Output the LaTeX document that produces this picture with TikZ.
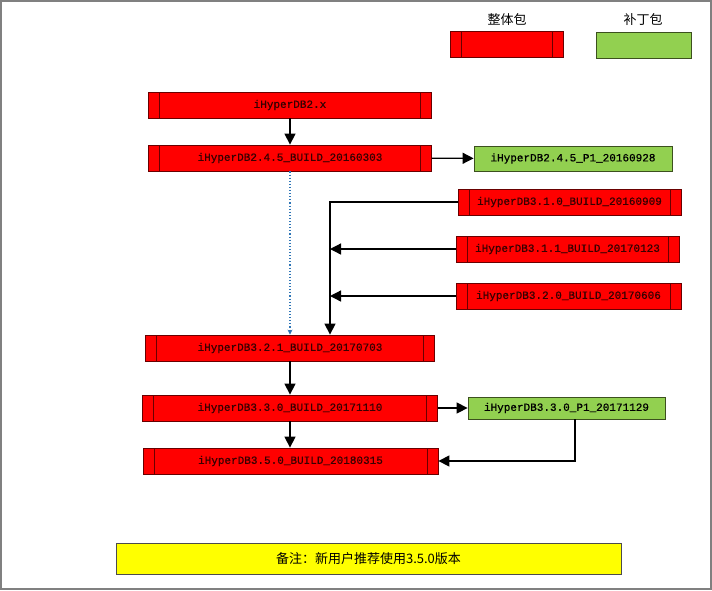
\documentclass[tikz,border=0pt]{standalone}
\usepackage{fontspec}
\newfontfamily\pkgfont{Liberation Mono}[FakeBold=0.7]
\newfontfamily\cjk{Noto Sans CJK SC}
\usepackage{tikz}
\usetikzlibrary{arrows.meta, positioning}

\definecolor{pkgred}{RGB}{255,0,0}
\definecolor{pkgedge}{RGB}{105,0,0}
\definecolor{pkgtext}{RGB}{55,0,0}
\definecolor{patchgreen}{RGB}{146,208,80}
\definecolor{patchedge}{RGB}{60,80,30}
\definecolor{noteyellow}{RGB}{255,255,0}
\definecolor{dotblue}{RGB}{46,117,182}

\begin{document}
\begin{tikzpicture}[
  x=1pt, y=-1pt,
  font=\fontsize{11}{13}\selectfont\pkgfont,
  fullpkg/.style={draw=pkgedge, fill=pkgred, line width=0.8pt, text=pkgtext,
                  minimum height=26pt, inner sep=0pt,
                  path picture={
                    \draw[pkgedge, line width=0.8pt]
                      ([xshift=11pt]path picture bounding box.north west) --
                      ([xshift=11pt]path picture bounding box.south west)
                      ([xshift=-11pt]path picture bounding box.north east) --
                      ([xshift=-11pt]path picture bounding box.south east);}},
  patchpkg/.style={draw=patchedge, fill=patchgreen, line width=0.8pt,
                   minimum height=25pt, inner sep=0pt},
  legendlbl/.style={font=\fontsize{13}{15}\selectfont\cjk},
  arr/.style={-{Triangle[length=11pt, width=11pt]}, line width=1.3pt},
  dotarr/.style={-{Stealth[length=5pt, width=5pt]}, dotted, line width=1.1pt, dotblue}
]

\useasboundingbox (0,0) rectangle (712,590);
\draw[gray, line width=1.6pt] (0.8,0.8) rectangle (711.2,589.2);

% legend
\node[fullpkg, minimum width=113pt] (legfull) at (506.5,44) {};
\node[patchpkg, minimum width=95pt, minimum height=26pt] (legpatch) at (643.5,45) {};
\node[legendlbl] (legfulltxt) at (507,20) {整体包};
\node[legendlbl] (legpatchtxt) at (643,20) {补丁包};

% packages
\node[fullpkg, minimum width=283pt] (v2x) at (290,105) {iHyperDB2.x};
\node[fullpkg, minimum width=283pt] (v245) at (290,158) {iHyperDB2.4.5\_BUILD\_20160303};
\node[patchpkg, minimum width=198pt] (p245) at (573,158.5) {iHyperDB2.4.5\_P1\_20160928};

\node[fullpkg, minimum width=223pt] (v310) at (569.5,202) {iHyperDB3.1.0\_BUILD\_20160909};
\node[fullpkg, minimum width=223pt] (v311) at (567.5,249) {iHyperDB3.1.1\_BUILD\_20170123};
\node[fullpkg, minimum width=225pt] (v320) at (568.5,296) {iHyperDB3.2.0\_BUILD\_20170606};

\node[fullpkg, minimum width=289pt] (v321) at (290,348) {iHyperDB3.2.1\_BUILD\_20170703};
\node[fullpkg, minimum width=295pt] (v330) at (290,408) {iHyperDB3.3.0\_BUILD\_20171110};
\node[patchpkg, minimum width=197pt, minimum height=22pt] (p330) at (566.5,408) {iHyperDB3.3.0\_P1\_20171129};
\node[fullpkg, minimum width=295pt] (v350) at (290.5,461) {iHyperDB3.5.0\_BUILD\_20180315};

\node[draw=black!70, fill=noteyellow, line width=0.8pt, minimum width=505pt,
      minimum height=31pt, font=\fontsize{13}{15}\selectfont\cjk] (note) at (368.5,558.5)
  {备注：新用户推荐使用3.5.0版本};

\coordinate (trunk) at ([xshift=40pt]v321.north);

\draw[arr] (v2x) -- (v245);
\draw[arr] (v245) -- (p245);
\draw[dotarr] (v245) -- (v321);
\draw[arr] (v310) -| (trunk);
\draw[arr] (v311) -- (v311 -| trunk);
\draw[arr] (v320) -- (v320 -| trunk);
\draw[arr] (v321) -- (v330);
\draw[arr] (v330) -- (p330);
\draw[arr] (v330.south) -- (v330.south |- v350.north);
\draw[arr] ([xshift=8.5pt]p330.south) |- (v350);

\end{tikzpicture}
\end{document}
